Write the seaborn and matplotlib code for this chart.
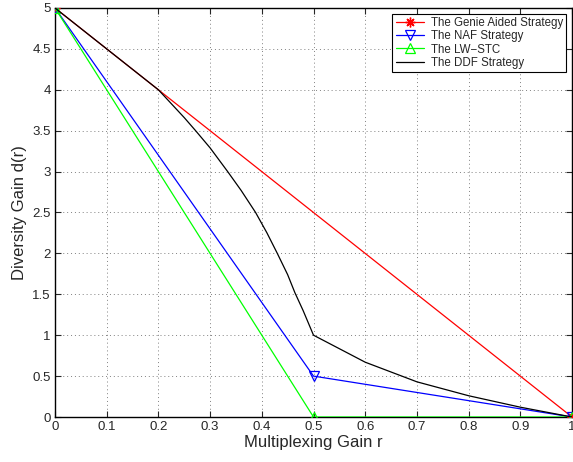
import matplotlib
matplotlib.use("Agg")
import matplotlib.pyplot as plt
import seaborn as sns

# Data
genie_r = [0.0, 0.2, 1.0]
genie_d = [5.0, 4.0, 0.0]
naf_r = [0.0, 0.5, 1.0]
naf_d = [5.0, 0.5, 0.0]
lw_r = [0.0, 0.5, 1.0]
lw_d = [5.0, 0.0, 0.0]
ddf_r = [0.0, 0.2, 0.25, 0.272, 0.3, 0.334, 0.36, 0.388, 0.41, 0.43,
         0.45, 0.464, 0.48, 0.5, 0.6, 0.7, 0.8, 0.9, 1.0]
ddf_d = [5.0, 4.0, 3.66, 3.5, 3.29, 3.0, 2.77, 2.5, 2.25, 2.0,
         1.74, 1.52, 1.3, 1.0, 0.67, 0.43, 0.26, 0.12, 0.0]

sns.set_style("white")
plt.rcParams['font.family'] = ['Liberation Sans', 'DejaVu Sans']

fig = plt.figure(figsize=(5.73, 4.62), dpi=100)
ax = fig.add_axes([55/573, 1 - 417/462, (572 - 55)/573, (417 - 8)/462])

sns.lineplot(x=genie_r, y=genie_d, ax=ax, color='#ff0000', lw=0.9,
             marker=(8, 2, 0), markersize=7, markeredgewidth=1.0, markeredgecolor='#ff0000',
             markevery=[0, 2], label='The Genie Aided Strategy',
             sort=False, estimator=None, zorder=3)
sns.lineplot(x=naf_r, y=naf_d, ax=ax, color='#0000ff', lw=0.9,
             marker='v', markersize=7, markerfacecolor='none', markeredgecolor='#0000ff',
             markeredgewidth=0.9, label='The NAF Strategy', sort=False, estimator=None, zorder=3)
sns.lineplot(x=lw_r, y=lw_d, ax=ax, color='#00ff00', lw=0.9,
             marker='^', markersize=7, markerfacecolor='none', markeredgecolor='#00ff00',
             markeredgewidth=0.9, label='The LW\u2212STC', sort=False, estimator=None, zorder=3)
sns.lineplot(x=ddf_r, y=ddf_d, ax=ax, color='black', lw=0.9,
             label='The DDF Strategy', sort=False, estimator=None, zorder=4)

ax.set_xlim(0, 1)
ax.set_ylim(0, 5)
ax.set_xticks([i / 10 for i in range(11)])
ax.set_xticklabels(['0', '0.1', '0.2', '0.3', '0.4', '0.5', '0.6', '0.7', '0.8', '0.9', '1'])
ax.set_yticks([i / 2 for i in range(11)])
ax.set_yticklabels(['0', '0.5', '1', '1.5', '2', '2.5', '3', '3.5', '4', '4.5', '5'])
ax.tick_params(direction='in', length=4, width=0.8, labelsize=9.5, top=True, right=True,
               bottom=True, left=True, pad=3)
ax.grid(True, linestyle=(0, (1, 3)), color='#808080', linewidth=0.7)
for s in ax.spines.values():
    s.set_color('black')
    s.set_linewidth(1.0)

ax.set_xlabel('Multiplexing Gain r', fontsize=12, labelpad=1)
ax.set_ylabel('Diversity Gain d(r)', fontsize=12, labelpad=4)

leg = ax.legend(loc='upper right', fontsize=8.3, frameon=True, fancybox=False,
                edgecolor='black', framealpha=1, borderpad=0.3, labelspacing=0.1,
                handlelength=2.4, handletextpad=0.6, borderaxespad=0.5)
leg.get_frame().set_linewidth(0.8)

fig.savefig('out.png', dpi=100)
